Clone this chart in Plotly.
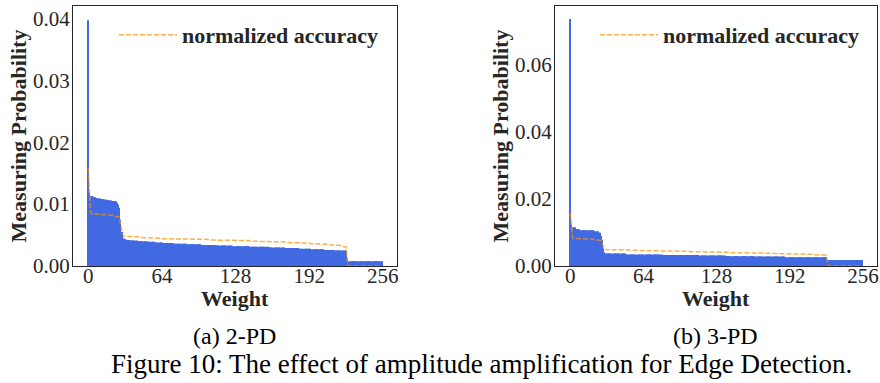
import numpy as np
import plotly.graph_objects as go

# ---------------- data (run-length encoded plateaus) ----------------
weights = list(range(256))
x_ticks = [0, 64, 128, 192, 256]

# 2-PD : measuring probability per weight
pd2_prob_levels = [0.0397, 0.0118, 0.0113, 0.0112, 0.0111, 0.0110, 0.0109, 0.0108, 0.0107, 0.0106,
                   0.0105, 0.0104, 0.0102, 0.0099, 0.0094, 0.0075, 0.0055, 0.0045, 0.0044, 0.0043,
                   0.0042, 0.0041, 0.0040, 0.0039, 0.0038, 0.0037, 0.0036, 0.0035, 0.0034, 0.0033,
                   0.0032, 0.0031, 0.0030, 0.0029, 0.0028, 0.0027, 0.0026, 0.0025, 0.0012, 0.00076]
pd2_prob_runs = [1, 1, 2, 1, 2, 2, 2, 4, 2, 4,
                 3, 1, 1, 1, 1, 1, 1, 1, 1, 2,
                 2, 7, 8, 7, 7, 10, 11, 12, 13, 14,
                 16, 16, 14, 12, 11, 11, 10, 10, 1, 30]

# 2-PD : normalized accuracy per weight
pd2_acc_levels = [0.0158, 0.0105, 0.0086, 0.0084, 0.0083, 0.0082, 0.0080, 0.0078, 0.0068, 0.0055,
                  0.0050, 0.0048, 0.0047, 0.0046, 0.0045, 0.0044, 0.0043, 0.0042, 0.0041, 0.0040,
                  0.0039, 0.0038, 0.0037, 0.0036, 0.0035, 0.0034, 0.0033, 0.0031, 0.0012, 0.0]
pd2_acc_runs = [1, 1, 1, 6, 8, 6, 4, 1, 1, 1,
                1, 8, 8, 8, 8, 18, 24, 20, 16, 16,
                14, 12, 10, 10, 8, 6, 5, 3, 1, 30]

# 3-PD : measuring probability per weight
pd3_prob_levels = [0.0737, 0.0123, 0.0116, 0.0110, 0.0107, 0.0104, 0.0099, 0.0090, 0.0078, 0.0052,
                   0.0041, 0.0037, 0.0034, 0.0033, 0.0031, 0.0029, 0.0028, 0.0026, 0.0018]
pd3_prob_runs = [1, 1, 3, 4, 12, 4, 2, 1, 1, 1,
                 1, 18, 32, 32, 23, 25, 27, 37, 31]

# 3-PD : normalized accuracy per weight
pd3_acc_levels = [0.0157, 0.0132, 0.0085, 0.0082, 0.0080, 0.0078, 0.0076, 0.0068, 0.0058, 0.0050,
                  0.0049, 0.0048, 0.0047, 0.0046, 0.0045, 0.0044, 0.0043, 0.0042, 0.0041, 0.0040,
                  0.0039, 0.0038, 0.0037, 0.0036, 0.0035, 0.0034, 0.0032, 0.0012, 0.0]
pd3_acc_runs = [1, 1, 1, 8, 10, 6, 1, 1, 1, 1,
                10, 10, 10, 12, 14, 16, 10, 12, 14, 14,
                14, 12, 12, 12, 10, 7, 5, 1, 30]

pd2_prob = np.repeat(pd2_prob_levels, pd2_prob_runs)
pd2_acc = np.repeat(pd2_acc_levels, pd2_acc_runs)
pd3_prob = np.repeat(pd3_prob_levels, pd3_prob_runs)
pd3_acc = np.repeat(pd3_acc_levels, pd3_acc_runs)
assert len(pd2_prob) == len(pd2_acc) == len(pd3_prob) == len(pd3_acc) == 256

# ---------------- styling ----------------
W, H = 880, 383
SERIF = "Liberation Serif, Times New Roman, serif"
TXT = "#262626"
BAR = "#4169E1"
ACC = "rgba(255,145,0,0.72)"

fig = go.Figure()

fig.add_trace(go.Bar(x=weights, y=pd2_prob, marker=dict(color=BAR, line=dict(width=0)),
                     width=0.8, showlegend=False, xaxis="x", yaxis="y"))
fig.add_trace(go.Scatter(x=weights, y=pd2_acc, mode="lines", name="normalized accuracy",
                         line=dict(color=ACC, width=1.5, dash="5px,2px"),
                         xaxis="x", yaxis="y", legend="legend"))
fig.add_trace(go.Bar(x=weights, y=pd3_prob, marker=dict(color=BAR, line=dict(width=0)),
                     width=0.8, showlegend=False, xaxis="x2", yaxis="y2"))
fig.add_trace(go.Scatter(x=weights, y=pd3_acc, mode="lines", name="normalized accuracy",
                         line=dict(color=ACC, width=1.5, dash="5px,2px"),
                         xaxis="x2", yaxis="y2", legend="legend2"))

def px2x(p):
    return p / W

def px2y(p):
    return 1 - p / H

ydom = [px2y(266), px2y(6)]
axis_common = dict(showline=True, mirror=True, linecolor=TXT, linewidth=1.3,
                   showgrid=False, zeroline=False, ticks="", automargin=False,
                   ticklabeloverflow="allow",
                   tickfont=dict(family=SERIF, size=21, color=TXT))
ytitle = dict(text="<b>Measuring Probability</b>", standoff=0,
              font=dict(family=SERIF, size=22, color=TXT))
legfont = dict(family=SERIF, size=22, color=TXT, weight="bold")
titlefont = dict(family=SERIF, size=22, color=TXT, weight="bold")

fig.update_layout(
    width=W, height=H,
    margin=dict(l=0, r=0, t=0, b=0),
    paper_bgcolor="white", plot_bgcolor="white",
    bargap=0.2,
    xaxis=dict(domain=[px2x(73), px2x(397)], range=[-13.3, 268.3], anchor="y",
               tickvals=x_ticks, ticktext=[str(t) for t in x_ticks],
               ticklabelstandoff=-9, **axis_common),
    yaxis=dict(domain=ydom, range=[0, 0.0420], anchor="x",
               tickvals=[0, 0.01, 0.02, 0.03, 0.04], tickformat=".2f",
               ticklabelstandoff=-2, title=ytitle, **axis_common),
    xaxis2=dict(domain=[px2x(555), px2x(877)], range=[-13.3, 268.3], anchor="y2",
                tickvals=x_ticks, ticktext=[str(t) for t in x_ticks],
                ticklabelstandoff=-9, **axis_common),
    yaxis2=dict(domain=ydom, range=[0, 0.0776], anchor="x2",
                tickvals=[0, 0.02, 0.04, 0.06], tickformat=".2f",
                ticklabelstandoff=-2, title=ytitle, **axis_common),
    legend=dict(x=px2x(114), y=px2y(35), xanchor="left", yanchor="middle",
                bgcolor="rgba(255,255,255,0)", borderwidth=0, itemwidth=58,
                font=legfont),
    legend2=dict(x=px2x(595), y=px2y(35), xanchor="left", yanchor="middle",
                 bgcolor="rgba(255,255,255,0)", borderwidth=0, itemwidth=58,
                 font=legfont),
    annotations=[
        dict(text="Weight", x=px2x(235), y=px2y(298), xref="paper", yref="paper",
             showarrow=False, xanchor="center", yanchor="middle", font=titlefont),
        dict(text="Weight", x=px2x(716), y=px2y(298), xref="paper", yref="paper",
             showarrow=False, xanchor="center", yanchor="middle", font=titlefont),
        dict(text="(a) 2-PD", x=px2x(234), y=px2y(336), xref="paper", yref="paper",
             showarrow=False, xanchor="center", yanchor="middle",
             font=dict(family=SERIF, size=24, color="black")),
        dict(text="(b) 3-PD", x=px2x(715), y=px2y(336), xref="paper", yref="paper",
             showarrow=False, xanchor="center", yanchor="middle",
             font=dict(family=SERIF, size=24, color="black")),
        dict(text="Figure 10: The effect of amplitude amplification for Edge Detection.",
             x=px2x(481), y=px2y(364), xref="paper", yref="paper",
             showarrow=False, xanchor="center", yanchor="middle",
             font=dict(family=SERIF, size=27, color="black")),
    ],
)

# remove the browser's default 8px page margin so the figure fills the window exactly
fig.write_html("out.html",
               config={"displayModeBar": False},
               post_script="document.body.style.margin='0';document.body.style.overflow='hidden';")
